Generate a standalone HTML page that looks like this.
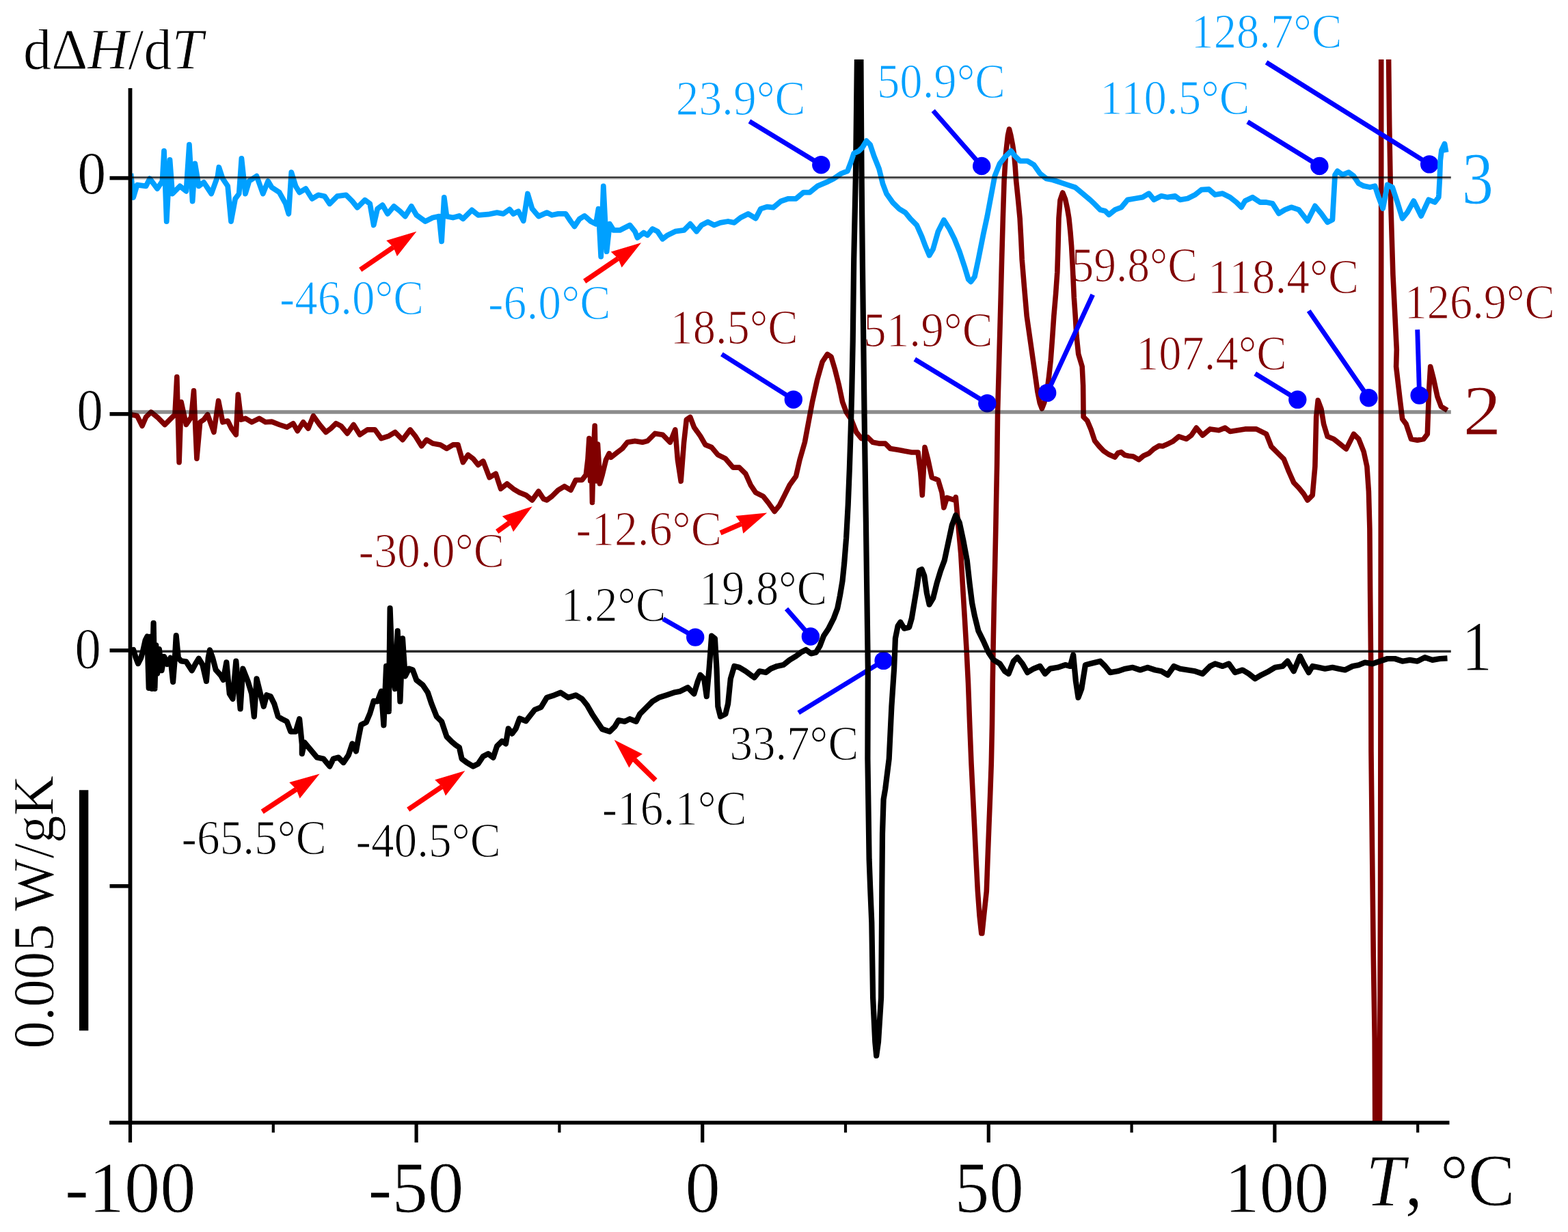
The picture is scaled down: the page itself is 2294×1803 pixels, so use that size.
<!DOCTYPE html>
<html><head><meta charset="utf-8"><title>DSC derivative curves</title>
<style>html,body{margin:0;padding:0;background:#fff;}body{width:2294px;height:1803px;overflow:hidden;}svg{display:block;}text{font-family:"Liberation Serif","DejaVu Serif",serif;}</style></head><body>
<svg width="2294" height="1803" viewBox="0 0 2294 1803">
<rect width="2294" height="1803" fill="#fff"/>
<defs><clipPath id="plot"><rect x="188" y="87" width="1940" height="1556"/></clipPath></defs>
<g stroke="#fff" stroke-width="1.2" stroke-linejoin="round">
<text x="409.0" y="459.5" font-size="72" fill="#00A0FF" text-anchor="start" textLength="211.0" lengthAdjust="spacingAndGlyphs">-46.0°C</text>
<text x="714.0" y="466.5" font-size="72" fill="#00A0FF" text-anchor="start" textLength="179.4" lengthAdjust="spacingAndGlyphs">-6.0°C</text>
<text x="988.7" y="167.5" font-size="72" fill="#00A0FF" text-anchor="start" textLength="189.9" lengthAdjust="spacingAndGlyphs">23.9°C</text>
<text x="1282.9" y="142.8" font-size="72" fill="#00A0FF" text-anchor="start" textLength="188.0" lengthAdjust="spacingAndGlyphs">50.9°C</text>
<text x="1609.1" y="166.7" font-size="72" fill="#00A0FF" text-anchor="start" textLength="219.4" lengthAdjust="spacingAndGlyphs">110.5°C</text>
<text x="1742.5" y="69.8" font-size="72" fill="#00A0FF" text-anchor="start" textLength="220.8" lengthAdjust="spacingAndGlyphs">128.7°C</text>
<text x="980.5" y="503.4" font-size="72" fill="#800000" text-anchor="start" textLength="187.1" lengthAdjust="spacingAndGlyphs">18.5°C</text>
<text x="1263.1" y="507.0" font-size="72" fill="#800000" text-anchor="start" textLength="189.4" lengthAdjust="spacingAndGlyphs">51.9°C</text>
<text x="1567.4" y="411.5" font-size="72" fill="#800000" text-anchor="start" textLength="184.6" lengthAdjust="spacingAndGlyphs">59.8°C</text>
<text x="1766.7" y="428.8" font-size="72" fill="#800000" text-anchor="start" textLength="221.4" lengthAdjust="spacingAndGlyphs">118.4°C</text>
<text x="2054.7" y="465.6" font-size="72" fill="#800000" text-anchor="start" textLength="220.1" lengthAdjust="spacingAndGlyphs">126.9°C</text>
<text x="1662.1" y="540.9" font-size="72" fill="#800000" text-anchor="start" textLength="220.6" lengthAdjust="spacingAndGlyphs">107.4°C</text>
<text x="524.6" y="830.0" font-size="72" fill="#800000" text-anchor="start" textLength="213.3" lengthAdjust="spacingAndGlyphs">-30.0°C</text>
<text x="842.6" y="797.6" font-size="72" fill="#800000" text-anchor="start" textLength="213.2" lengthAdjust="spacingAndGlyphs">-12.6°C</text>
<text x="820.5" y="908.7" font-size="72" fill="#000" text-anchor="start" textLength="153.9" lengthAdjust="spacingAndGlyphs">1.2°C</text>
<text x="1022.9" y="884.9" font-size="72" fill="#000" text-anchor="start" textLength="187.1" lengthAdjust="spacingAndGlyphs">19.8°C</text>
<text x="1067.4" y="1112.4" font-size="72" fill="#000" text-anchor="start" textLength="188.7" lengthAdjust="spacingAndGlyphs">33.7°C</text>
<text x="880.7" y="1206.7" font-size="72" fill="#000" text-anchor="start" textLength="211.8" lengthAdjust="spacingAndGlyphs">-16.1°C</text>
<text x="265.6" y="1250.2" font-size="72" fill="#000" text-anchor="start" textLength="212.0" lengthAdjust="spacingAndGlyphs">-65.5°C</text>
<text x="520.5" y="1254.0" font-size="72" fill="#000" text-anchor="start" textLength="212.1" lengthAdjust="spacingAndGlyphs">-40.5°C</text>
</g>
<g clip-path="url(#plot)">
<polyline points="191.4,606.8 200.6,608.6 208.0,623.3 213.5,610.4 220.9,603.1 230.1,610.4 241.1,621.5 250.3,612.3 255.9,606.8 258.8,551.5 262.1,676.7 265.1,588.4 272.4,621.5 279.8,610.4 283.5,571.8 287.9,671.2 292.7,617.8 298.2,614.1 303.7,606.8 312.9,632.5 319.6,586.5 325.8,617.8 333.2,616.0 338.7,627.0 345.3,636.2 348.3,577.3 352.7,614.1 359.0,612.3 368.2,617.8 379.2,612.3 388.4,617.8 397.6,617.1 408.7,621.5 419.7,625.2 428.9,619.7 435.2,630.7 443.6,617.8 451.0,627.0 458.4,608.6 467.6,621.5 476.8,632.5 484.1,627.0 491.5,619.7 498.8,623.3 508.1,634.4 517.3,621.5 526.5,636.2 537.5,628.9 548.6,628.9 557.8,641.7 568.8,638.1 578.0,632.5 589.0,643.6 600.1,628.9 607.5,638.1 616.7,652.8 624.0,643.6 633.2,649.1 644.3,650.9 653.5,656.5 662.7,650.9 670.0,650.9 677.4,676.7 684.8,665.7 692.1,671.2 699.5,680.4 706.9,674.9 716.1,698.8 725.3,693.3 732.6,715.4 741.8,708.0 751.0,715.4 760.2,720.9 769.4,724.6 778.6,731.9 787.9,719.1 795.2,730.1 800.0,731.9 807.4,726.4 816.6,717.2 825.8,711.7 835.0,717.2 842.3,702.5 851.5,702.5 857.3,694.9 860.0,672.0 861.9,641.5 863.7,704.0 865.0,650.0 866.5,735.4 868.3,660.0 870.2,623.0 871.6,690.0 872.9,704.0 874.5,650.0 876.6,685.7 877.5,707.8 881.2,694.9 886.5,673.0 891.3,663.6 893.9,669.4 903.1,662.0 910.4,656.5 917.8,647.3 928.9,645.4 939.9,647.3 947.3,645.4 958.3,634.4 969.4,636.2 980.4,647.3 987.8,628.9 991.4,673.0 996.2,704.3 1000.6,647.3 1004.3,614.1 1009.8,610.4 1015.4,625.2 1024.6,638.1 1031.9,650.9 1041.1,654.6 1050.3,665.7 1061.4,671.2 1072.4,684.1 1081.6,684.1 1090.8,693.3 1098.2,709.8 1105.6,720.9 1116.6,726.4 1124.0,735.6 1133.2,748.5 1140.5,739.3 1147.9,724.6 1155.3,709.8 1164.5,697.0 1170.0,673.0 1177.4,647.3 1182.9,617.8 1188.4,588.4 1195.8,555.2 1203.1,529.5 1210.5,518.4 1216.0,522.1 1221.5,540.5 1227.1,562.6 1232.6,588.4 1238.1,603.1 1245.5,614.1 1252.8,632.5 1260.2,641.7 1269.4,639.9 1276.8,647.3 1286.0,649.1 1295.2,649.1 1302.5,656.5 1313.6,658.3 1322.8,660.1 1333.8,662.0 1343.0,662.0 1346.7,691.4 1349.3,724.6 1353.0,654.6 1357.8,673.0 1363.3,698.8 1372.5,702.5 1378.0,720.9 1380.9,743.0 1385.4,728.3 1396.4,731.9 1398.3,727.6 1402.0,770.0 1405.7,810.4 1408.6,860.0 1411.2,902.5 1414.0,950.0 1416.5,1000.0 1418.7,1060.0 1421.0,1117.0 1423.4,1165.0 1425.7,1210.8 1428.0,1258.0 1430.4,1304.4 1433.0,1340.0 1435.8,1366.0 1436.8,1366.0 1439.5,1340.0 1443.3,1304.4 1445.0,1258.0 1446.8,1210.8 1448.6,1165.0 1450.3,1117.0 1451.5,1060.0 1452.2,1000.0 1453.2,940.0 1454.3,884.0 1455.6,830.0 1456.8,773.6 1457.8,720.0 1458.6,680.0 1459.6,602.7 1461.2,545.0 1462.7,490.4 1464.2,435.0 1465.6,380.0 1467.3,320.0 1469.1,264.0 1471.5,225.0 1474.5,198.0 1476.5,189.0 1478.8,198.0 1481.5,212.0 1483.8,227.3 1485.3,245.0 1486.6,264.0 1489.5,292.0 1492.1,319.3 1493.8,350.0 1495.2,380.0 1498.5,420.0 1502.2,462.8 1506.8,495.0 1511.4,527.3 1514.8,551.0 1517.9,573.3 1521.3,590.0 1524.3,598.0 1527.8,589.0 1531.7,573.3 1534.6,551.0 1537.2,527.3 1539.6,495.0 1541.8,462.8 1544.6,430.0 1546.8,398.4 1548.0,360.0 1549.0,319.3 1551.0,293.0 1554.7,282.0 1558.6,291.7 1561.5,305.0 1563.9,319.3 1566.0,340.0 1567.6,360.0 1569.0,385.0 1571.3,435.2 1573.2,462.0 1574.9,490.4 1577.7,518.1 1583.2,536.5 1584.6,564.1 1585.1,610.1 1590.6,615.6 1596.1,628.5 1601.6,645.1 1608.0,653.0 1614.5,659.8 1622.0,665.0 1631.1,669.0 1635.5,663.0 1640.3,661.6 1645.5,666.0 1651.3,667.2 1658.0,668.0 1666.1,672.7 1673.0,667.0 1680.8,663.5 1688.0,657.0 1695.5,652.4 1701.0,653.0 1706.6,650.6 1715.6,646.2 1724.7,638.8 1735.7,642.5 1743.0,637.0 1750.3,626.1 1759.4,637.0 1770.4,627.9 1783.2,629.7 1792.3,626.1 1799.6,631.5 1810.6,629.7 1821.5,627.9 1838.0,627.9 1852.6,635.2 1859.9,653.5 1869.0,662.6 1878.2,671.7 1885.5,690.0 1892.8,706.4 1900.1,713.8 1907.4,722.9 1912.9,732.0 1920.2,724.7 1923.9,682.7 1925.7,609.6 1928.2,585.9 1933.0,598.7 1936.6,620.6 1942.1,638.8 1951.3,642.5 1960.4,649.8 1969.5,657.1 1975.0,646.2 1980.5,635.2 1987.8,642.5 1995.1,660.8 1999.9,682.7 2002.4,719.2 2003.9,774.0 2004.6,865.4 2005.7,975.0 2006.0,1100.0 2007.6,1250.0 2009.3,1400.0 2011.2,1520.0 2012.0,1700.0 2018.4,1700.0 2018.8,1520.0 2019.6,1300.0 2020.0,1000.0 2020.7,365.4 2020.7,87.7 2021.8,-146.2 2030.6,-146.2 2031.6,87.7 2032.7,182.7 2034.6,292.3 2037.9,401.9 2043.3,511.6 2042.6,536.5 2048.1,584.0 2051.7,613.3 2057.2,620.6 2064.5,642.5 2073.7,644.3 2082.8,642.5 2088.3,635.2 2090.5,573.1 2092.7,536.5 2097.4,554.8 2102.9,580.4 2108.4,595.0 2117.5,600.5" fill="none" stroke="#800000" stroke-width="7.6" stroke-linejoin="round" stroke-linecap="butt" />
</g>
<line x1="1096.4" y1="177.5" x2="1201.3" y2="241.2" stroke="#0000FF" stroke-width="6.9" stroke-linecap="butt"/>
<circle cx="1201.3" cy="241.2" r="13.2" fill="#0000FF"/>
<line x1="1365.2" y1="162.0" x2="1436.2" y2="243.0" stroke="#0000FF" stroke-width="6.9" stroke-linecap="butt"/>
<circle cx="1436.2" cy="243.0" r="13.2" fill="#0000FF"/>
<line x1="1825.2" y1="178.3" x2="1930.4" y2="243.0" stroke="#0000FF" stroke-width="6.9" stroke-linecap="butt"/>
<circle cx="1930.4" cy="243.0" r="13.2" fill="#0000FF"/>
<line x1="1852.6" y1="91.3" x2="2091.2" y2="240.4" stroke="#0000FF" stroke-width="6.9" stroke-linecap="butt"/>
<circle cx="2091.2" cy="240.4" r="13.2" fill="#0000FF"/>
<line x1="1055.9" y1="518.4" x2="1160.8" y2="584.7" stroke="#0000FF" stroke-width="6.9" stroke-linecap="butt"/>
<circle cx="1160.8" cy="584.7" r="13.2" fill="#0000FF"/>
<line x1="1338.3" y1="525.8" x2="1444.3" y2="590.2" stroke="#0000FF" stroke-width="6.9" stroke-linecap="butt"/>
<circle cx="1444.3" cy="590.2" r="13.2" fill="#0000FF"/>
<line x1="1598.7" y1="431.2" x2="1532.2" y2="574.9" stroke="#0000FF" stroke-width="6.9" stroke-linecap="butt"/>
<circle cx="1532.2" cy="574.9" r="13.2" fill="#0000FF"/>
<line x1="1836.2" y1="546.8" x2="1898.3" y2="584.8" stroke="#0000FF" stroke-width="6.9" stroke-linecap="butt"/>
<circle cx="1898.3" cy="584.8" r="13.2" fill="#0000FF"/>
<line x1="1914.7" y1="454.9" x2="2002.4" y2="582.2" stroke="#0000FF" stroke-width="6.9" stroke-linecap="butt"/>
<circle cx="2002.4" cy="582.2" r="13.2" fill="#0000FF"/>
<line x1="2073.7" y1="482.3" x2="2076.6" y2="578.6" stroke="#0000FF" stroke-width="6.9" stroke-linecap="butt"/>
<circle cx="2076.6" cy="578.6" r="13.2" fill="#0000FF"/>
<line x1="970.1" y1="905.7" x2="1017.2" y2="932.6" stroke="#0000FF" stroke-width="6.9" stroke-linecap="butt"/>
<circle cx="1017.2" cy="932.6" r="13.2" fill="#0000FF"/>
<line x1="1150.5" y1="891.0" x2="1185.9" y2="931.5" stroke="#0000FF" stroke-width="6.9" stroke-linecap="butt"/>
<circle cx="1185.9" cy="931.5" r="13.2" fill="#0000FF"/>
<line x1="1168.2" y1="1043.1" x2="1292.6" y2="966.9" stroke="#0000FF" stroke-width="6.9" stroke-linecap="butt"/>
<circle cx="1292.6" cy="966.9" r="13.2" fill="#0000FF"/>
<line x1="527.2" y1="394.7" x2="575.5" y2="361.8" stroke="#FF0000" stroke-width="7.4" stroke-linecap="butt"/>
<polygon points="609.4,338.7 580.9,375.0 575.5,361.8 565.2,351.9" fill="#FF0000"/>
<line x1="855.2" y1="411.6" x2="904.2" y2="378.3" stroke="#FF0000" stroke-width="7.4" stroke-linecap="butt"/>
<polygon points="938.1,355.3 909.6,391.6 904.2,378.3 893.8,368.4" fill="#FF0000"/>
<line x1="727.2" y1="778.0" x2="745.3" y2="765.0" stroke="#FF0000" stroke-width="7.4" stroke-linecap="butt"/>
<polygon points="778.7,741.2 751.0,778.2 745.3,765.0 734.8,755.4" fill="#FF0000"/>
<line x1="1054.0" y1="779.8" x2="1084.5" y2="766.6" stroke="#FF0000" stroke-width="7.4" stroke-linecap="butt"/>
<polygon points="1122.2,750.4 1087.3,780.7 1084.5,766.6 1076.3,755.0" fill="#FF0000"/>
<line x1="383.7" y1="1187.8" x2="433.4" y2="1155.1" stroke="#FF0000" stroke-width="7.4" stroke-linecap="butt"/>
<polygon points="467.6,1132.5 438.6,1168.4 433.4,1155.1 423.2,1145.0" fill="#FF0000"/>
<line x1="597.2" y1="1184.8" x2="646.5" y2="1151.2" stroke="#FF0000" stroke-width="7.4" stroke-linecap="butt"/>
<polygon points="680.4,1128.1 651.9,1164.4 646.5,1151.2 636.2,1141.3" fill="#FF0000"/>
<line x1="959.0" y1="1141.8" x2="928.0" y2="1111.5" stroke="#FF0000" stroke-width="7.4" stroke-linecap="butt"/>
<polygon points="898.7,1082.8 939.9,1103.6 928.0,1111.5 920.4,1123.6" fill="#FF0000"/>
<g clip-path="url(#plot)">
<polyline points="190.5,951.8 195.1,950.9 198.8,962.8 202.0,971.1 206.2,962.8 208.9,953.6 212.6,937.1 215.4,931.5 217.7,1007.0 220.4,931.5 222.3,1007.9 224.6,911.8 226.4,1007.9 228.3,944.4 230.1,985.8 232.9,950.0 236.5,981.2 240.2,961.0 244.8,972.0 249.4,962.8 253.1,997.8 255.9,962.8 257.7,930.2 260.9,962.8 265.1,967.4 272.4,968.4 280.7,981.2 286.2,971.1 290.8,963.8 296.4,973.0 301.9,996.9 304.7,962.8 307.0,951.3 311.1,962.8 315.7,980.3 323.1,988.6 326.7,995.0 331.3,969.4 335.8,1015.4 340.5,1022.8 345.3,967.6 351.6,1037.5 355.3,978.6 362.6,997.0 368.2,1015.4 371.8,1048.6 375.5,993.3 381.0,1015.4 385.8,1033.8 390.2,1017.3 395.8,1019.1 401.3,1030.1 406.8,1048.6 412.3,1052.2 419.7,1055.9 425.2,1070.6 432.6,1070.6 438.1,1052.2 441.8,1089.0 441.8,1103.1 445.5,1086.5 454.7,1097.6 463.9,1108.6 473.1,1110.4 482.3,1121.5 487.8,1110.4 495.2,1108.6 502.5,1116.0 509.9,1104.9 515.4,1088.4 520.9,1099.4 524.6,1079.2 528.3,1060.7 535.7,1057.1 541.2,1044.2 546.7,1025.8 552.2,1026.5 557.8,1011.7 561.4,1061.4 565.1,974.9 568.8,1041.2 570.6,890.2 574.3,989.6 578.0,1008.1 581.7,923.4 585.4,1026.5 589.0,934.4 592.7,989.6 598.3,978.6 603.8,980.4 609.3,995.2 618.5,1002.5 625.9,1013.6 631.4,1030.1 638.7,1048.6 646.1,1055.9 653.5,1078.0 660.8,1085.4 666.4,1090.2 671.9,1093.9 675.6,1110.4 682.9,1116.0 692.1,1121.5 699.5,1117.8 706.9,1106.8 714.2,1103.1 721.6,1108.6 727.1,1092.0 734.5,1084.7 740.0,1088.4 743.7,1066.3 749.2,1073.6 754.7,1066.3 760.2,1051.5 769.4,1055.2 775.0,1047.9 782.3,1038.7 791.5,1035.0 800.0,1020.9 811.0,1017.3 820.2,1013.6 831.3,1020.9 842.3,1017.3 851.5,1022.8 858.9,1032.0 866.3,1044.9 873.6,1055.9 881.0,1067.0 892.0,1070.6 899.4,1063.3 904.9,1054.1 914.1,1055.9 921.5,1052.2 930.7,1055.9 936.2,1044.9 945.4,1035.7 954.6,1026.5 963.8,1020.9 974.9,1017.3 985.9,1013.6 995.1,1011.7 1006.2,1006.2 1015.4,1015.4 1020.9,997.0 1024.6,987.8 1030.1,993.3 1033.8,1019.1 1037.5,978.6 1041.1,930.7 1045.9,934.4 1048.5,978.6 1050.3,1033.8 1054.0,1048.6 1061.4,1044.9 1065.1,1030.1 1068.8,993.3 1074.3,974.9 1081.6,976.8 1090.8,982.3 1098.2,987.8 1103.7,991.5 1111.1,982.3 1120.3,984.1 1127.7,978.6 1136.9,974.9 1146.1,973.1 1155.3,965.7 1164.5,960.2 1171.8,954.7 1179.2,951.0 1186.6,956.5 1193.9,954.7 1199.4,945.5 1205.0,930.7 1212.3,919.7 1219.7,905.0 1225.2,890.2 1228.9,871.8 1232.6,849.7 1235.2,824.0 1238.1,787.2 1240.7,739.3 1242.9,684.1 1244.7,628.9 1246.2,573.6 1247.7,500.0 1249.2,380.0 1252.0,250.0 1253.9,87.0 1255.0,-200.0 1258.4,-200.0 1259.4,87.0 1260.5,250.0 1261.8,380.0 1264.6,610.4 1266.8,757.7 1268.3,868.2 1269.8,978.6 1269.4,1110.4 1271.6,1257.7 1273.2,1300.0 1275.3,1350.0 1277.1,1460.0 1280.3,1525.0 1282.2,1545.0 1285.0,1525.0 1289.1,1460.0 1290.0,1350.0 1290.3,1300.0 1291.0,1220.0 1292.6,1170.0 1295.2,1154.6 1300.7,1110.4 1304.4,1033.8 1308.1,978.6 1309.9,934.4 1313.6,916.0 1317.3,910.5 1322.8,919.7 1330.1,917.9 1333.8,905.0 1337.5,882.9 1341.2,860.8 1344.9,835.0 1348.6,833.2 1352.2,842.4 1355.9,868.2 1359.6,884.7 1365.1,875.5 1370.6,853.4 1376.2,835.0 1381.7,820.3 1387.2,794.5 1392.7,768.8 1398.3,754.0 1403.8,765.1 1409.3,790.8 1414.8,820.3 1418.5,853.4 1422.2,882.9 1425.9,901.3 1431.4,923.4 1438.7,938.1 1446.1,954.7 1453.5,965.7 1462.7,971.2 1470.0,982.3 1475.6,986.0 1482.9,967.6 1488.4,962.0 1495.8,971.2 1503.2,984.1 1512.4,978.6 1521.6,974.9 1528.9,986.0 1536.3,978.6 1547.4,976.8 1558.4,973.1 1565.8,974.9 1570.2,958.4 1573.9,997.0 1577.5,1020.9 1582.3,1008.1 1587.9,973.1 1595.2,971.2 1609.6,967.7 1616.9,975.0 1624.2,984.1 1635.2,982.3 1646.2,978.7 1657.1,976.8 1668.1,980.5 1679.0,976.8 1690.0,980.5 1699.1,982.3 1708.3,987.8 1717.4,975.0 1726.5,978.7 1737.5,980.5 1748.5,982.3 1759.4,986.0 1770.4,975.0 1777.7,971.4 1788.7,975.0 1797.8,971.4 1806.9,984.1 1817.9,980.5 1827.0,986.0 1836.2,993.3 1845.3,987.8 1856.3,982.3 1865.4,976.8 1876.4,975.0 1883.7,967.7 1892.8,982.3 1901.9,960.4 1907.4,971.4 1914.7,984.1 1920.2,975.0 1929.3,976.8 1938.5,978.7 1949.4,976.8 1958.6,978.7 1967.7,980.5 1978.7,975.0 1987.8,973.2 1996.9,969.5 2007.9,971.4 2018.9,967.7 2029.8,964.0 2040.8,964.0 2051.7,967.7 2062.7,965.9 2073.7,967.7 2084.6,962.2 2095.6,965.9 2106.6,964.0 2117.5,963.3" fill="none" stroke="#000" stroke-width="8.2" stroke-linejoin="round" stroke-linecap="butt" />
<polyline points="191.4,254.0 195.1,289.0 200.6,270.6 213.5,272.4 219.1,261.4 230.1,276.1 237.5,265.1 240.0,220.9 243.7,324.0 248.5,233.8 252.2,283.5 263.2,272.4 272.4,279.8 276.9,211.7 281.6,294.5 285.3,239.3 290.8,272.4 298.2,266.9 309.2,283.5 318.5,257.7 320.3,244.8 325.8,261.4 333.2,272.4 338.0,324.0 344.2,290.8 349.7,283.5 353.4,231.9 359.0,283.5 364.5,265.1 375.5,257.7 384.7,283.5 392.1,265.1 397.6,274.3 408.7,281.6 417.9,298.2 422.3,312.9 426.3,252.2 432.6,272.4 438.1,281.6 447.3,276.1 456.5,290.8 465.7,285.3 474.9,287.2 482.3,298.2 493.3,287.2 506.2,285.3 515.4,294.5 522.8,303.7 533.8,292.7 541.2,298.2 546.7,329.5 552.2,305.6 559.6,300.0 567.0,312.9 576.2,301.9 585.4,309.2 592.7,316.6 601.9,301.9 609.3,314.8 622.2,324.0 633.2,318.5 642.4,316.6 646.1,353.4 649.8,289.0 653.5,316.6 662.7,318.5 671.9,315.9 677.4,320.3 690.3,307.4 699.5,314.8 714.2,313.7 727.1,311.1 736.3,312.9 745.5,306.3 751.0,312.9 758.4,309.2 765.8,323.2 772.0,283.5 778.6,305.6 787.9,316.6 800.0,311.1 807.4,314.8 816.6,312.9 827.6,312.9 835.0,324.0 840.5,331.3 847.9,320.3 855.2,315.9 864.4,324.0 871.8,327.7 875.5,305.6 879.2,375.5 882.8,272.4 887.6,368.2 892.0,327.7 897.6,336.9 906.8,336.9 914.1,333.2 921.5,329.5 928.9,338.7 932.5,347.9 941.7,340.5 947.3,344.2 954.6,335.0 962.0,338.7 969.4,349.7 976.7,344.2 987.8,338.7 1000.6,336.9 1009.8,327.7 1019.1,338.7 1026.4,329.5 1035.6,324.7 1044.8,329.5 1054.0,325.8 1065.1,324.0 1074.3,325.8 1083.5,318.5 1094.5,312.9 1105.6,319.6 1112.9,305.6 1122.1,302.6 1131.3,303.7 1142.4,294.5 1153.4,290.8 1164.5,290.8 1175.5,281.6 1184.7,281.6 1195.8,272.4 1208.7,266.9 1219.7,261.4 1230.7,254.0 1239.9,250.3 1245.5,235.6 1249.1,224.6 1256.5,220.9 1262.0,215.4 1267.6,206.2 1273.1,211.7 1278.6,228.3 1286.0,246.7 1291.5,268.8 1297.0,283.5 1306.2,296.4 1315.4,305.6 1324.6,311.1 1332.0,320.3 1341.2,329.5 1348.6,346.1 1354.1,360.8 1359.6,373.7 1365.1,364.5 1372.5,338.7 1380.9,322.1 1389.0,335.0 1396.4,349.7 1403.8,368.2 1411.1,390.2 1416.7,408.7 1420.3,412.3 1425.9,405.0 1431.4,379.2 1438.7,342.4 1444.3,316.6 1449.8,287.2 1455.3,257.7 1462.7,239.3 1470.0,230.1 1479.2,220.9 1484.8,228.3 1492.1,235.6 1503.2,235.6 1512.4,241.1 1521.6,254.0 1530.8,261.4 1540.0,263.2 1551.0,266.9 1562.1,270.6 1573.1,274.3 1584.2,283.5 1595.2,292.7 1600.5,297.8 1609.6,306.9 1616.9,308.8 1622.4,314.2 1631.5,306.9 1640.7,303.3 1649.8,292.3 1660.8,290.5 1671.7,288.7 1680.9,283.2 1688.2,292.3 1699.1,286.8 1708.3,288.7 1719.2,286.8 1726.5,292.3 1737.5,290.5 1748.5,285.0 1757.6,277.7 1768.6,277.0 1777.7,285.0 1788.7,283.2 1799.6,288.7 1808.8,296.0 1816.1,303.3 1821.5,294.1 1832.5,288.7 1843.5,296.0 1852.6,296.0 1861.7,297.8 1870.9,312.4 1880.0,306.9 1889.1,303.3 1900.1,306.9 1912.9,323.4 1923.9,301.4 1933.0,312.4 1942.1,325.2 1949.4,321.5 1953.1,255.8 1956.7,250.3 1964.0,255.8 1973.2,252.1 1980.5,257.6 1987.8,268.6 1995.1,272.2 2004.2,274.0 2011.6,272.2 2017.0,288.7 2023.2,305.1 2029.8,270.4 2037.1,274.0 2044.4,296.0 2051.7,319.7 2059.1,310.6 2068.2,294.1 2079.1,316.1 2090.1,292.3 2099.2,296.0 2104.7,288.7 2105.0,285.0 2106.3,262.0 2107.2,235.0 2109.0,220.0 2113.5,210.5 2115.6,223.0" fill="none" stroke="#00A0FF" stroke-width="7.8" stroke-linejoin="round" stroke-linecap="butt" />
</g>
<g style="mix-blend-mode:multiply">
<line x1="190" y1="259.6" x2="2122.8" y2="259.6" stroke="#404040" stroke-width="2.8"/>
<line x1="190" y1="262.0" x2="2122.8" y2="262.0" stroke="#d0d0d0" stroke-width="2"/>
<line x1="190" y1="603.0" x2="2122.8" y2="603.0" stroke="#8c8c8c" stroke-width="5.4"/>
<line x1="190" y1="953.3" x2="2122.8" y2="953.3" stroke="#2a2a2a" stroke-width="3.6"/>
</g>
<line x1="190.5" y1="129" x2="190.5" y2="1645.5" stroke="#000" stroke-width="5.8"/>
<line x1="160" y1="1643.0" x2="2120.5" y2="1643.0" stroke="#000" stroke-width="5.6"/>
<line x1="160.5" y1="260.6" x2="190" y2="260.6" stroke="#000" stroke-width="5.6"/>
<line x1="160.5" y1="605.9" x2="190" y2="605.9" stroke="#000" stroke-width="5.6"/>
<line x1="160.5" y1="951.9" x2="190" y2="951.9" stroke="#000" stroke-width="5.6"/>
<line x1="160.5" y1="1296.8" x2="190" y2="1296.8" stroke="#000" stroke-width="5.6"/>
<line x1="190.5" y1="1643" x2="190.5" y2="1672" stroke="#000" stroke-width="5.2"/>
<line x1="609.1" y1="1643" x2="609.1" y2="1672" stroke="#000" stroke-width="5.2"/>
<line x1="1027.7" y1="1643" x2="1027.7" y2="1672" stroke="#000" stroke-width="5.2"/>
<line x1="1446.3" y1="1643" x2="1446.3" y2="1672" stroke="#000" stroke-width="5.2"/>
<line x1="1864.9" y1="1643" x2="1864.9" y2="1672" stroke="#000" stroke-width="5.2"/>
<line x1="399.8" y1="1643" x2="399.8" y2="1657.5" stroke="#000" stroke-width="4.2"/>
<line x1="818.4" y1="1643" x2="818.4" y2="1657.5" stroke="#000" stroke-width="4.2"/>
<line x1="1237.0" y1="1643" x2="1237.0" y2="1657.5" stroke="#000" stroke-width="4.2"/>
<line x1="1655.6" y1="1643" x2="1655.6" y2="1657.5" stroke="#000" stroke-width="4.2"/>
<line x1="2074.2" y1="1643" x2="2074.2" y2="1657.5" stroke="#000" stroke-width="4.2"/>
<line x1="122.6" y1="1156.3" x2="122.6" y2="1508.2" stroke="#000" stroke-width="13.4"/>
<g stroke="#fff" stroke-width="0.9" stroke-linejoin="round">
<text x="34.1" y="100.8" font-size="84.5" fill="#000" text-anchor="start" textLength="263.2" lengthAdjust="spacingAndGlyphs">dΔ<tspan font-style="italic">H</tspan>/d<tspan font-style="italic">T</tspan></text>
<text x="113.2" y="283.4" font-size="89.5" fill="#000" text-anchor="start" textLength="42.0" lengthAdjust="spacingAndGlyphs">0</text>
<text x="112.3" y="629.2" font-size="86" fill="#000" text-anchor="start" textLength="38.6" lengthAdjust="spacingAndGlyphs">0</text>
<text x="109.5" y="977.6" font-size="84" fill="#000" text-anchor="start" textLength="38.3" lengthAdjust="spacingAndGlyphs">0</text>
<text x="95.0" y="1774.0" font-size="105" fill="#000" text-anchor="start" textLength="191.4" lengthAdjust="spacingAndGlyphs">-100</text>
<text x="538.5" y="1774.0" font-size="105" fill="#000" text-anchor="start" textLength="140.0" lengthAdjust="spacingAndGlyphs">-50</text>
<text x="1002.6" y="1774.0" font-size="105" fill="#000" text-anchor="start" textLength="51.3" lengthAdjust="spacingAndGlyphs">0</text>
<text x="1396.7" y="1774.0" font-size="105" fill="#000" text-anchor="start" textLength="101.1" lengthAdjust="spacingAndGlyphs">50</text>
<text x="1791.8" y="1774.0" font-size="105" fill="#000" text-anchor="start" textLength="152.6" lengthAdjust="spacingAndGlyphs">100</text>
<text x="1998.3" y="1764.0" font-size="107" fill="#000" text-anchor="start" textLength="218.4" lengthAdjust="spacingAndGlyphs"><tspan font-style="italic">T</tspan>, °C</text>
<text x="2138.8" y="298.0" font-size="107" fill="#00A0FF" text-anchor="start" textLength="46.2" lengthAdjust="spacingAndGlyphs">3</text>
<text x="2140.4" y="635.6" font-size="104" fill="#800000" text-anchor="start" textLength="55.9" lengthAdjust="spacingAndGlyphs">2</text>
<text x="2139.0" y="981.0" font-size="104" fill="#000" text-anchor="start" textLength="43.6" lengthAdjust="spacingAndGlyphs">1</text>
<g transform="translate(78.4 1531.8) rotate(-90)"><text x="-2.9" y="0" font-size="85" fill="#000" textLength="399.9" lengthAdjust="spacingAndGlyphs">0.005 W/gK</text></g>
</g>
</svg></body></html>
